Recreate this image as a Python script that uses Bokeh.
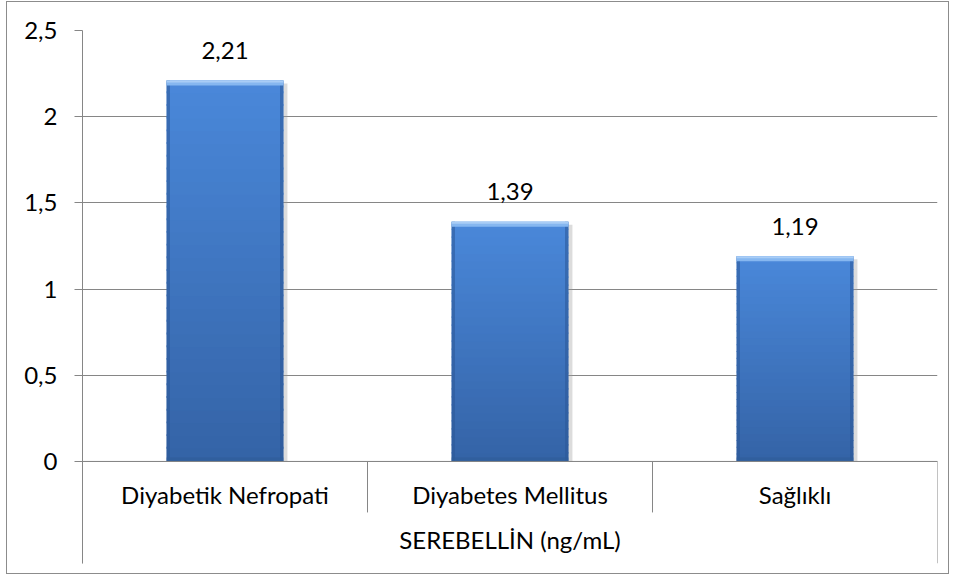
from bokeh.plotting import figure
from bokeh.models import Range1d, FixedTicker, ColumnDataSource
from bokeh.core.properties import value
from bokeh.embed import file_html
from bokeh.resources import INLINE

# ---- data ----
categories = ["Diyabetik Nefropati", "Diyabetes Mellitus", "Sağlıklı"]
values = [2.21, 1.39, 1.19]
value_labels = ["2,21", "1,39", "1,19"]
group_label = "SEREBELLİN (ng/mL)"
y_ticks = [0, 0.5, 1, 1.5, 2, 2.5]
y_tick_labels = ["0", "0,5", "1", "1,5", "2", "2,5"]

FONT = "Lato"
FS = "24px"
GRID = "#868686"

Y_MIN = -0.592
Y_MAX = 2.5
PX_PER_UNIT = 172.4

n = len(categories)
xs = [i + 0.5 for i in range(n)]
bar_w = 0.41

p = figure(width=943, height=573, output_backend="svg", toolbar_location=None,
           x_range=Range1d(0, n), y_range=Range1d(Y_MIN, Y_MAX),
           min_border_left=75, min_border_right=13, min_border_top=28, min_border_bottom=12,
           styles={"border": "1px solid #8c8c8c", "margin-left": "6px", "margin-top": "1px"})
p.outline_line_color = None
p.xaxis.visible = False
p.xgrid.visible = False
p.background_fill_color = "white"
p.border_fill_color = "white"

ya = p.yaxis[0]
ya.ticker = FixedTicker(ticks=y_ticks)
ya.major_label_overrides = {t: l for t, l in zip(y_ticks, y_tick_labels)}
ya.axis_line_color = GRID
ya.axis_line_width = 1
ya.major_tick_line_color = GRID
ya.major_tick_out = 8
ya.major_tick_in = 0
ya.minor_tick_line_color = None
ya.major_label_standoff = 17
ya.major_label_text_font = FONT
ya.major_label_text_font_size = FS
ya.major_label_text_color = "black"

p.ygrid.ticker = FixedTicker(ticks=y_ticks)
p.ygrid.grid_line_color = GRID
p.ygrid.grid_line_width = 1

# ---- bars with vertical gradient (Excel bevel style) ----
def mix(c1, c2, t):
    a = [int(c1[i:i + 2], 16) for i in (1, 3, 5)]
    b = [int(c2[i:i + 2], 16) for i in (1, 3, 5)]
    return "#%02x%02x%02x" % tuple(round(a[j] + (b[j] - a[j]) * t) for j in range(3))

TOP_C = "#4a88da"
BOT_C = "#3463a6"
N = 30
L, R, B, T, C = [], [], [], [], []
for x, v in zip(xs, values):
    for k in range(N):
        L.append(x - bar_w / 2)
        R.append(x + bar_w / 2)
        B.append(v * k / N)
        T.append(min(v, v * (k + 1.15) / N))
        C.append(mix(BOT_C, TOP_C, (k + 0.5) / N))

# soft shadow right/bottom of bars
sh = 4 / 285.0
p.quad(left=[x - bar_w / 2 + sh for x in xs], right=[x + bar_w / 2 + sh for x in xs],
       bottom=[0] * n, top=[v - 3 / PX_PER_UNIT for v in values],
       fill_color="#9a9a9a", fill_alpha=0.35, line_color=None)

p.quad(left=L, right=R, bottom=B, top=T, fill_color=C, line_color=None)

# shading on edges
edge = 0.012
p.quad(left=[x - bar_w / 2 for x in xs], right=[x - bar_w / 2 + edge for x in xs],
       bottom=[0] * n, top=values, fill_color="#2b5797", fill_alpha=0.55, line_color=None)
p.quad(left=[x + bar_w / 2 - edge for x in xs], right=[x + bar_w / 2 for x in xs],
       bottom=[0] * n, top=values, fill_color="#2b5797", fill_alpha=0.55, line_color=None)
# top bevel highlight
bev = 5 / PX_PER_UNIT
p.quad(left=[x - bar_w / 2 for x in xs], right=[x + bar_w / 2 for x in xs],
       bottom=[v - bev for v in values], top=values, fill_color="#86b7f0", line_color=None)
p.quad(left=[x - bar_w / 2 for x in xs], right=[x + bar_w / 2 for x in xs],
       bottom=[v - bev * 0.4 for v in values], top=values, fill_color="#a9cdf6", line_color=None)
# bottom dark band
p.quad(left=[x - bar_w / 2 for x in xs], right=[x + bar_w / 2 for x in xs],
       bottom=[0] * n, top=[bev * 0.8] * n, fill_color="#2f5b98", fill_alpha=0.6, line_color=None)

# baseline redraw over bars
p.segment(x0=[0], y0=[0], x1=[n], y1=[0], line_color=GRID, line_width=1)

# ---- data labels ----
src = ColumnDataSource(dict(x=xs, y=values, t=value_labels))
p.text(x="x", y="y", text="t", source=src, text_align="center", text_baseline="alphabetic",
       y_offset=-30, text_font=value(FONT), text_font_size=FS, text_color="black")

# ---- category axis (two levels) ----
inner_len = 51 / PX_PER_UNIT
bounds = list(range(n + 1))
p.segment(x0=bounds, y0=[0] * (n + 1), x1=bounds,
          y1=[Y_MIN if b in (0, n) else -inner_len for b in bounds],
          line_color=GRID, line_width=1)
p.text(x=xs, y=[0] * n, text=categories, text_align="center", text_baseline="alphabetic",
       y_offset=33, text_font=value(FONT), text_font_size=FS, text_color="black")
p.text(x=[n / 2], y=[0], text=[group_label], text_align="center", text_baseline="alphabetic",
       y_offset=78, text_font=value(FONT), text_font_size=FS, text_color="black")

open("out.html", "w").write(file_html(p, INLINE))
